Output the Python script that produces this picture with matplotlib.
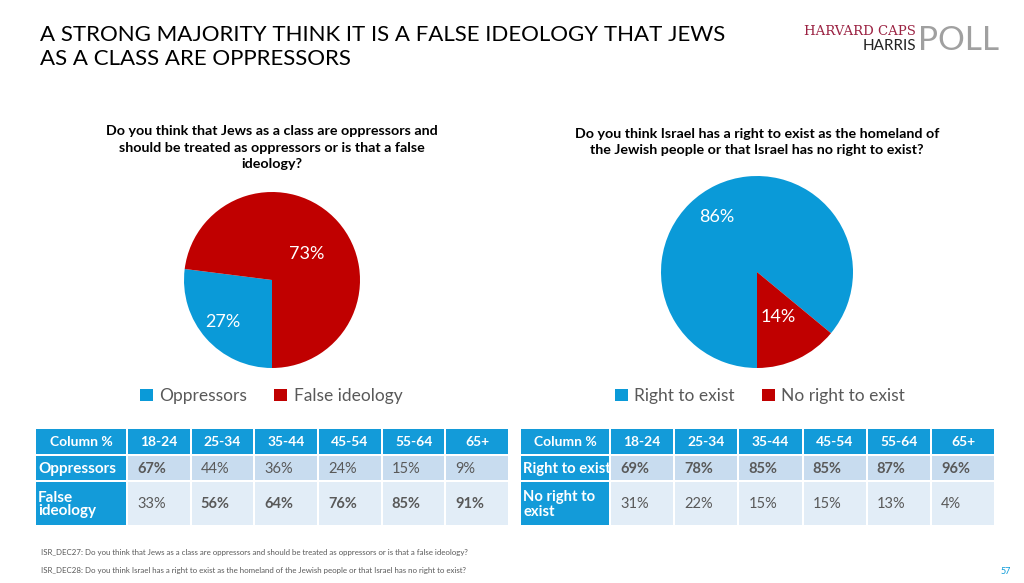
import matplotlib
matplotlib.use("Agg")
import matplotlib.pyplot as plt
from matplotlib.patches import Rectangle

plt.rcParams['font.family'] = ['Lato', 'DejaVu Sans']

# Daten
titulo = "A STRONG MAJORITY THINK IT IS A FALSE IDEOLOGY THAT JEWS\nAS A CLASS ARE OPPRESSORS"
pergunta_1 = "Do you think that Jews as a class are oppressors and\nshould be treated as oppressors or is that a false\nideology?"
pergunta_2 = "Do you think Israel has a right to exist as the homeland of\nthe Jewish people or that Israel has no right to exist?"

rotulos_1 = ["Oppressors", "False ideology"]
valores_1 = [27, 73]
rotulos_2 = ["Right to exist", "No right to exist"]
valores_2 = [86, 14]

idades = ["18-24", "25-34", "35-44", "45-54", "55-64", "65+"]
linhas_1 = ["Oppressors", "False\nideology"]
tabela_1 = [[67, 44, 36, 24, 15, 9],
            [33, 56, 64, 76, 85, 91]]
negrito_1 = [[1, 0, 0, 0, 0, 0],
             [0, 1, 1, 1, 1, 1]]
linhas_2 = ["Right to exist", "No right to\nexist"]
tabela_2 = [[69, 78, 85, 85, 87, 96],
            [31, 22, 15, 15, 13, 4]]
negrito_2 = [[1, 1, 1, 1, 1, 1],
             [0, 0, 0, 0, 0, 0]]

rodape = ["ISR_DEC27: Do you think that Jews as a class are oppressors and should be treated as oppressors or is that a false ideology?",
          "ISR_DEC28: Do you think Israel has a right to exist as the homeland of the Jewish people or that Israel has no right to exist?"]

azul = "#0A9AD8"
vermelho = "#C00000"
cab = "#139BD9"
claro1 = "#C8DCEF"
claro2 = "#E2EDF7"
cinza_txt = "#595959"

W, H = 1024, 583
fig = plt.figure(figsize=(W / 100, H / 100), dpi=100)
fig.patch.set_facecolor("white")

# eixo de fundo em pixels
ax0 = fig.add_axes([0, 0, 1, 1])
ax0.set_xlim(0, W)
ax0.set_ylim(H, 0)
ax0.axis("off")

ax0.text(40, 25, titulo, fontsize=16, va="top", ha="left", color="black",
         linespacing=1.25)

# logo
ax0.text(916, 35, "HARVARD CAPS", family="DejaVu Serif", fontsize=9.5,
         color="#9B2242", ha="right", va="baseline")
ax0.text(916, 50, "HARRIS", fontsize=11, color="#222222", ha="right",
         va="baseline")
ax0.text(918, 50, "POLL", fontsize=24, color="#A0A0A0", ha="left",
         va="baseline")

# perguntas
ax0.text(272, 125, pergunta_1, fontsize=10.3, fontweight="bold", ha="center",
         va="top", linespacing=1.45)
ax0.text(757, 128, pergunta_2, fontsize=10.3, fontweight="bold", ha="center",
         va="top", linespacing=1.45)


def pizza(caixa, valores, rotulos, posicoes, legenda_xy):
    x, y, w, h = caixa
    ax = fig.add_axes([x / W, 1 - (y + h) / H, w / W, h / H])
    fatias, _, textos = ax.pie(valores, colors=[azul, vermelho], startangle=-90,
                               counterclock=False, autopct="%d%%",
                               wedgeprops=dict(linewidth=0),
                               textprops=dict(color="white", fontsize=13))
    for t, p in zip(textos, posicoes):
        t.set_position(p)
    ax.set_xlim(-1, 1)
    ax.set_ylim(-1, 1)
    ax.set_aspect("equal")
    fig.legend(fatias, rotulos, loc="center",
               bbox_to_anchor=(legenda_xy[0] / W, 1 - legenda_xy[1] / H),
               ncol=2, frameon=False, fontsize=12.5, handlelength=0.75,
               handleheight=0.75, handletextpad=0.35, columnspacing=1.6,
               labelcolor=cinza_txt)


pizza((184, 192, 176, 176), valores_1, rotulos_1,
      [(-0.56, -0.48), (0.39, 0.30)], (271, 396))
pizza((661, 176, 192, 192), valores_2, rotulos_2,
      [(-0.42, 0.57), (0.22, -0.47)], (760, 396))


def tabela(x0, larg_rot, larg_col, linhas, valores, negrito, fs_rot):
    alturas = [25, 24, 43]
    topo = 429
    gap = 2
    # cabecalho
    y = topo
    xs = [x0]
    for i in range(len(idades) + 1):
        xs.append(xs[-1] + (larg_rot if i == 0 else larg_col))
    cab_txt = ["Column %"] + idades
    for i, t in enumerate(cab_txt):
        ax0.add_patch(Rectangle((xs[i], y), xs[i + 1] - xs[i] - gap,
                                alturas[0], color=cab, lw=0))
        ax0.text((xs[i] + xs[i + 1] - gap) / 2, y + alturas[0] / 2 + 1, t,
                 color="white", fontweight="bold", fontsize=10, ha="center",
                 va="center")
    y += alturas[0] + gap
    for r, nome in enumerate(linhas):
        h = alturas[r + 1]
        fundo = claro1 if r == 0 else claro2
        ax0.add_patch(Rectangle((xs[0], y), xs[1] - xs[0] - gap, h, color=cab,
                                lw=0))
        ax0.text(xs[0] + 2, y + h / 2 + 1, nome, color="white",
                 fontweight="bold", fontsize=fs_rot, ha="left", va="center",
                 linespacing=1.0)
        for c, v in enumerate(valores[r]):
            ax0.add_patch(Rectangle((xs[c + 1], y), xs[c + 2] - xs[c + 1] - gap,
                                    h, color=fundo, lw=0))
            ax0.text(xs[c + 1] + 9, y + h / 2 + 1, f"{v}%", color=cinza_txt,
                     fontweight="bold" if negrito[r][c] else "normal",
                     fontsize=10.5, ha="left", va="center")
        y += h + gap


tabela(36, 92, 63.7, linhas_1, tabela_1, negrito_1, 11)
tabela(521, 90, 64.2, linhas_2, tabela_2, negrito_2, 10.6)

ax0.text(41, 552, rodape[0], fontsize=5.7, color=cinza_txt, va="center")
ax0.text(41, 570, rodape[1], fontsize=5.7, color=cinza_txt, va="center")
ax0.text(1011, 571, "57", fontsize=6.5, color=azul, va="center", ha="right")

fig.savefig("out.png", dpi=100, facecolor="white")
